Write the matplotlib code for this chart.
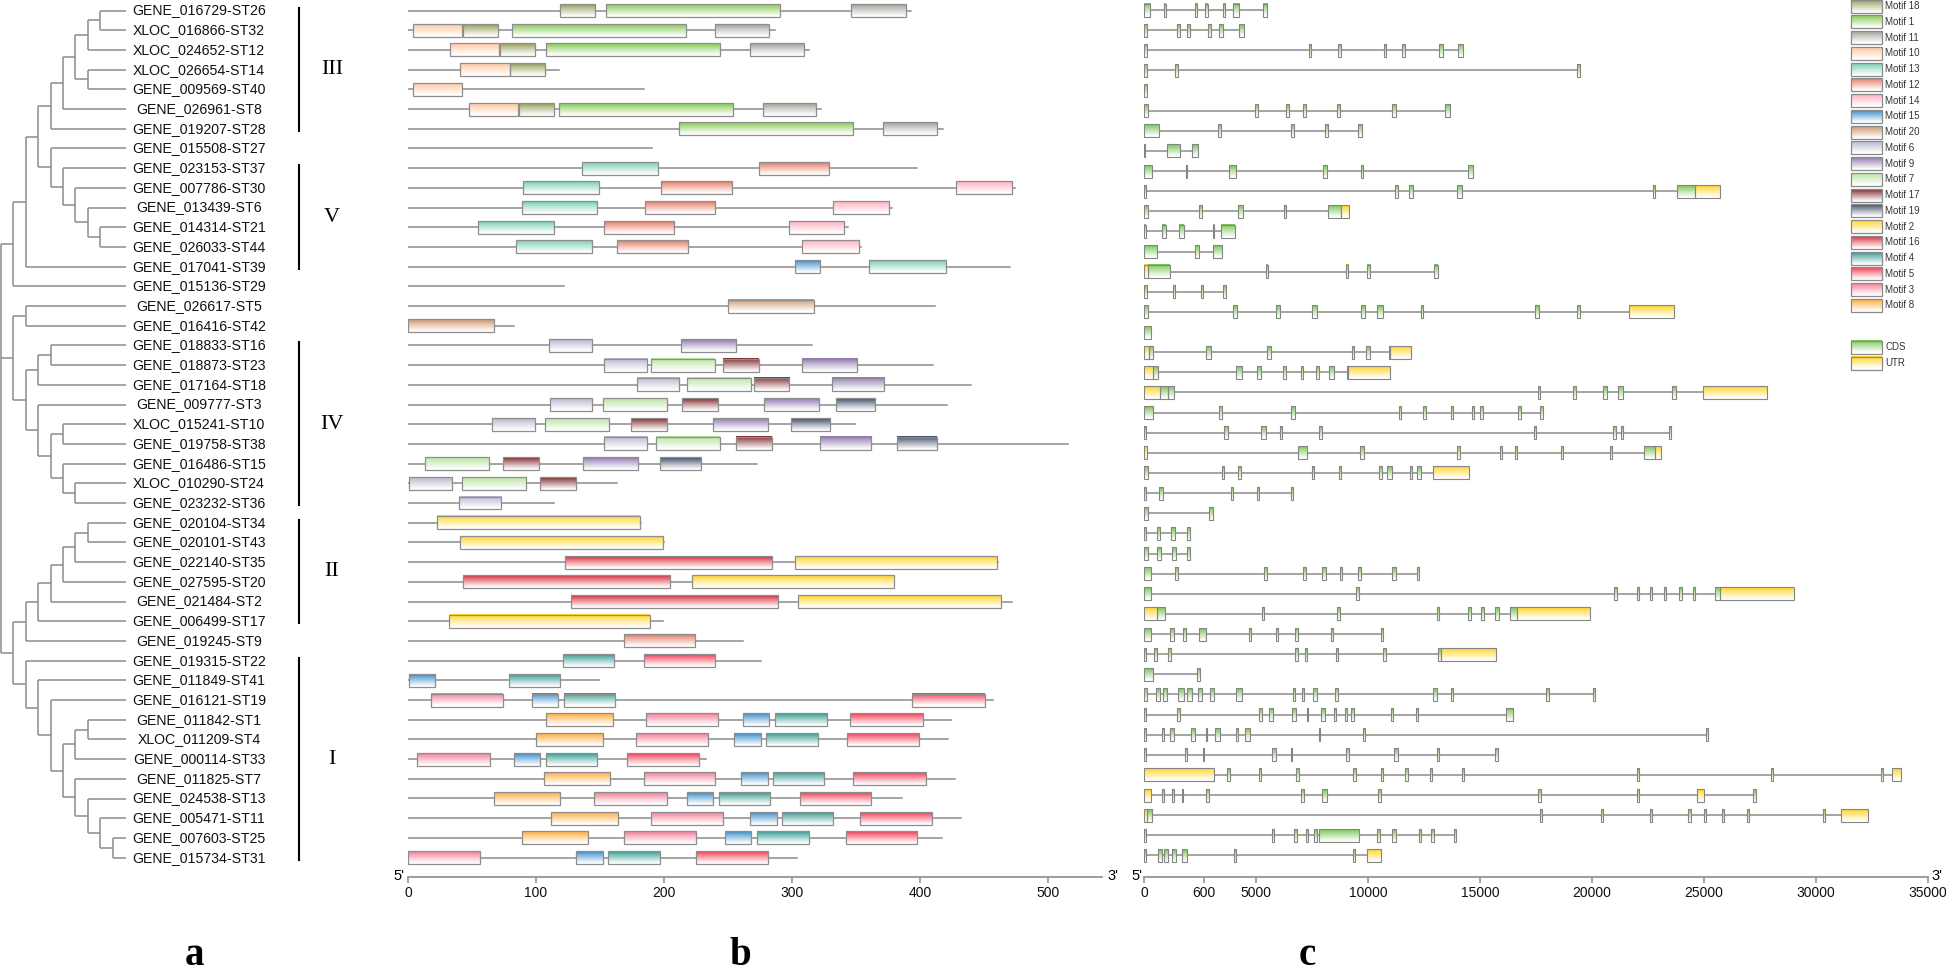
import numpy as np
import matplotlib
matplotlib.use('Agg')
import matplotlib.pyplot as plt
from matplotlib.patches import Rectangle
from matplotlib.colors import to_rgb
from matplotlib.transforms import ScaledTranslation

# ---------------- data ----------------
gene_labels = [
 "GENE_016729-ST26","XLOC_016866-ST32","XLOC_024652-ST12","XLOC_026654-ST14","GENE_009569-ST40",
 "GENE_026961-ST8","GENE_019207-ST28","GENE_015508-ST27","GENE_023153-ST37","GENE_007786-ST30",
 "GENE_013439-ST6","GENE_014314-ST21","GENE_026033-ST44","GENE_017041-ST39","GENE_015136-ST29",
 "GENE_026617-ST5","GENE_016416-ST42","GENE_018833-ST16","GENE_018873-ST23","GENE_017164-ST18",
 "GENE_009777-ST3","XLOC_015241-ST10","GENE_019758-ST38","GENE_016486-ST15","XLOC_010290-ST24",
 "GENE_023232-ST36","GENE_020104-ST34","GENE_020101-ST43","GENE_022140-ST35","GENE_027595-ST20",
 "GENE_021484-ST2","GENE_006499-ST17","GENE_019245-ST9","GENE_019315-ST22","GENE_011849-ST41",
 "GENE_016121-ST19","GENE_011842-ST1","XLOC_011209-ST4","GENE_000114-ST33","GENE_011825-ST7",
 "GENE_024538-ST13","GENE_005471-ST11","GENE_007603-ST25","GENE_015734-ST31"]

# cladogram topology (1-based leaf indices into gene_labels)
tree_newick = ("(((((((((1,2),3),(4,5)),6),7),(8,(9,(10,(11,(12,13)))))),14),15),"
               "((16,17),(((18,19),20),(21,((22,23),(24,(25,26)))))),"
               "(((((((27,28),29),30),31),32),33),(34,(35,(36,(((37,38),39),(40,(41,(42,(43,44))))))))))")

clade_names = ["III", "V", "IV", "II", "I"]
clade_first = [1, 9, 18, 27, 34]
clade_last = [7, 14, 26, 32, 44]

protein_len = [393,287,313,118,184,323,418,191,398,474,378,344,354,470,122,412,83,316,410,440,
               421,349,516,273,163,114,182,200,461,380,472,199,262,276,149,457,424,422,233,427,
               386,432,417,304]

motif_hits = [
 [(18,119,146),(1,155,291),(11,346,389)],
 [(10,4,42),(18,43,70),(1,81,217),(11,240,282)],
 [(10,33,71),(18,72,99),(1,108,244),(11,267,309)],
 [(10,41,80),(18,80,107)],
 [(10,4,42)],
 [(10,48,86),(18,87,114),(1,118,254),(11,277,319)],
 [(1,212,348),(11,371,413)],
 [],
 [(13,136,195),(12,274,329)],
 [(13,90,149),(12,198,253),(14,428,472)],
 [(13,89,148),(12,185,240),(14,332,376)],
 [(13,55,114),(12,153,208),(14,298,341)],
 [(13,84,144),(12,163,219),(14,308,352)],
 [(15,302,322),(13,360,420)],
 [],
 [(20,250,317)],
 [(20,0,67)],
 [(6,110,144),(9,213,256)],
 [(6,153,187),(7,190,240),(17,246,274),(9,308,351)],
 [(6,179,212),(7,218,268),(17,270,298),(9,331,372)],
 [(6,111,144),(7,152,202),(17,214,242),(9,278,321),(19,334,365)],
 [(6,66,99),(7,107,157),(17,174,202),(9,238,281),(19,299,330)],
 [(6,153,187),(7,194,244),(17,256,284),(9,322,362),(19,382,413)],
 [(7,13,63),(17,74,102),(9,137,180),(19,197,229)],
 [(6,1,34),(7,42,92),(17,103,131)],
 [(6,40,73)],
 [(2,23,181)],
 [(2,41,199)],
 [(16,123,284),(2,302,460)],
 [(16,43,205),(2,222,380)],
 [(16,127,289),(2,305,463)],
 [(2,32,189)],
 [(12,169,224)],
 [(4,121,161),(5,184,240)],
 [(15,1,21),(4,79,119)],
 [(3,18,74),(15,97,117),(4,122,162),(5,394,451)],
 [(8,108,160),(3,186,242),(15,262,282),(4,287,327),(5,345,402)],
 [(8,100,152),(3,178,234),(15,255,276),(4,280,320),(5,343,399)],
 [(3,7,64),(15,83,103),(4,108,148),(5,171,227)],
 [(8,106,158),(3,184,240),(15,260,281),(4,285,325),(5,348,405)],
 [(8,67,119),(3,145,202),(15,218,238),(4,243,283),(5,306,362)],
 [(8,112,164),(3,190,246),(15,267,288),(4,292,332),(5,353,409)],
 [(8,89,141),(3,169,225),(15,248,268),(4,273,313),(5,342,398)],
 [(3,0,56),(15,131,152),(4,156,197),(5,225,281)],
]

legend_motifs = [18,1,11,10,13,12,14,15,20,6,9,7,17,19,2,16,4,5,3,8]
motif_colors = {18:'#8d9a4e', 1:'#7cc846', 11:'#9c9c94', 10:'#ffc49a', 13:'#6fcca6',
                12:'#e27258', 14:'#ffaabb', 15:'#2f86c6', 20:'#c98f62', 6:'#b3b3cc',
                9:'#8a70aa', 7:'#b5e29a', 17:'#7a1f22', 19:'#36435e', 2:'#ffd21a',
                16:'#d9202f', 4:'#27978a', 5:'#f2304a', 3:'#f27592', 8:'#ffa72e'}
feature_colors = {'C': '#72c24a', 'U': '#ffd21a'}
feature_names = {'C': 'CDS', 'U': 'UTR'}

gene_models = [
 [(15,283,'C'),(908,997,'C'),(2262,2366,'C'),(2738,2842,'C'),(3512,3616,'C'),(3988,4256,'C'),(5297,5491,'C')],
 [(15,149,'C'),(1488,1622,'C'),(1920,2053,'C'),(2842,2976,'C'),(3348,3512,'C'),(4256,4479,'C')],
 [(15,119,'C'),(7351,7470,'C'),(8675,8794,'C'),(10714,10818,'C'),(11532,11651,'C'),(13184,13332,'C'),(14032,14240,'C')],
 [(15,119,'C'),(1399,1518,'C'),(19329,19463,'C')],
 [(15,149,'C')],
 [(15,164,'C'),(4970,5074,'C'),(6339,6458,'C'),(7113,7232,'C'),(8630,8749,'C'),(11086,11264,'C'),(13452,13660,'C')],
 [(15,655,'C'),(3318,3437,'C'),(6547,6681,'C'),(8065,8229,'C'),(9538,9746,'C')],
 [(15,60,'C'),(1042,1592,'C'),(2143,2425,'C')],
 [(15,372,'C'),(1875,1934,'C'),(3809,4122,'C'),(8005,8184,'C'),(9702,9761,'C'),(14463,14672,'C')],
 [(15,74,'C'),(11205,11324,'C'),(11844,12023,'C'),(13972,14181,'C'),(22722,22811,'C'),(23793,24597,'C'),(24597,25713,'U')],
 [(15,164,'C'),(2440,2589,'C'),(4211,4419,'C'),(6235,6324,'C'),(8229,8809,'C'),(8809,9166,'U')],
 [(15,74,'C'),(789,967,'C'),(1562,1771,'C'),(3065,3125,'C'),(3452,4047,'C')],
 [(15,580,'C'),(2262,2455,'C'),(3080,3467,'C')],
 [(15,193,'U'),(193,1146,'C'),(5431,5520,'C'),(9017,9121,'C'),(9955,10089,'C'),(12960,13109,'C')],
 [(15,119,'C'),(1309,1399,'C'),(2530,2619,'C'),(3541,3646,'C')],
 [(15,164,'C'),(3988,4137,'C'),(5907,6071,'C'),(7514,7708,'C'),(9687,9851,'C'),(10401,10684,'C'),(12350,12440,'C'),(17454,17618,'C'),(19329,19463,'C'),(21650,23659,'U')],
 [(15,327,'C')],
 [(15,223,'U'),(223,387,'C'),(2753,2991,'C'),(5506,5654,'C'),(9270,9389,'C'),(9895,10104,'C'),(10922,10981,'C'),(10981,11919,'U')],
 [(15,387,'U'),(387,610,'C'),(4092,4360,'C'),(5059,5208,'C'),(6220,6324,'C'),(7023,7083,'C'),(7678,7812,'C'),(8258,8482,'C'),(9047,9121,'C'),(9121,10981,'U')],
 [(15,729,'U'),(729,1056,'C'),(1056,1354,'C'),(17604,17693,'C'),(19167,19271,'C'),(20506,20685,'C'),(21176,21369,'C'),(23557,23735,'C'),(24970,27798,'U')],
 [(15,387,'C'),(3363,3497,'C'),(6562,6726,'C'),(11398,11487,'C'),(12469,12574,'C'),(13690,13794,'C'),(14642,14731,'C'),(15014,15133,'C'),(16695,16829,'C'),(17692,17796,'C')],
 [(15,74,'C'),(3571,3765,'C'),(5238,5431,'C'),(6071,6160,'C'),(7812,7931,'C'),(17395,17499,'C'),(20950,21050,'C'),(21300,21400,'C'),(23420,23520,'C')],
 [(15,149,'U'),(6860,7291,'C'),(9657,9836,'C'),(13957,14106,'C'),(15892,15981,'C'),(16547,16666,'C'),(18600,18700,'C'),(20800,20900,'C'),(22300,22800,'C'),(22800,23100,'U')],
 [(15,193,'C'),(3482,3571,'C'),(4211,4330,'C'),(7500,7604,'C'),(8720,8779,'C'),(10505,10624,'C'),(10862,11056,'C'),(11859,11949,'C'),(12187,12350,'C'),(12916,14523,'U')],
 [(15,74,'C'),(684,863,'C'),(3899,3988,'C'),(5029,5148,'C'),(6577,6666,'C')],
 [(15,193,'C'),(2887,3065,'C')],
 [(15,104,'C'),(565,729,'C'),(1220,1399,'C'),(1934,2053,'C')],
 [(15,164,'C'),(595,774,'C'),(1265,1443,'C'),(1920,2039,'C')],
 [(15,312,'C'),(1384,1533,'C'),(5372,5476,'C'),(7113,7232,'C'),(7961,8124,'C'),(8749,8854,'C'),(9538,9687,'C'),(11086,11264,'C'),(12172,12291,'C')],
 [(15,312,'C'),(9449,9598,'C'),(21000,21100,'C'),(22000,22100,'C'),(22600,22700,'C'),(23200,23300,'C'),(23900,24000,'C'),(24500,24600,'C'),(25500,25700,'C'),(25700,29000,'U')],
 [(15,595,'U'),(595,952,'C'),(5253,5357,'C'),(8630,8749,'C'),(13065,13184,'C'),(14478,14612,'C'),(15059,15178,'C'),(15669,15832,'C'),(16323,16636,'C'),(16636,19900,'U')],
 [(15,298,'C'),(1176,1354,'C'),(1726,1890,'C'),(2440,2753,'C'),(4687,4791,'C'),(5878,5997,'C'),(6756,6875,'C'),(8333,8437,'C'),(10565,10684,'C')],
 [(15,74,'C'),(446,580,'C'),(1056,1190,'C'),(6741,6875,'C'),(7187,7291,'C'),(8571,8675,'C'),(10669,10788,'C'),(13139,13243,'C'),(13243,15698,'U')],
 [(15,387,'C'),(2381,2485,'C')],
 [(15,119,'C'),(551,699,'C'),(863,1042,'C'),(1533,1771,'C'),(1920,2128,'C'),(2396,2604,'C'),(2931,3110,'C'),(4122,4360,'C'),(6666,6756,'C'),(7038,7157,'C'),(7529,7708,'C'),(8541,8645,'C'),(12901,13080,'C'),(13704,13809,'C'),(17961,18064,'C'),(20050,20150,'C')],
 [(15,74,'C'),(1488,1622,'C'),(5148,5253,'C'),(5565,5744,'C'),(6607,6770,'C'),(7261,7336,'C'),(7901,8065,'C'),(8482,8571,'C'),(8973,9062,'C'),(9240,9374,'C'),(11041,11130,'C'),(12142,12246,'C'),(16145,16487,'C')],
 [(15,74,'C'),(804,908,'C'),(1161,1354,'C'),(2113,2277,'C'),(2768,2827,'C'),(3169,3393,'C'),(4107,4196,'C'),(4509,4732,'C'),(7797,7872,'C'),(9791,9880,'C'),(25100,25200,'C')],
 [(15,74,'C'),(1815,1934,'C'),(2634,2693,'C'),(5714,5892,'C'),(6547,6607,'C'),(9032,9166,'C'),(11175,11354,'C'),(13094,13184,'C'),(15684,15788,'C')],
 [(15,3110,'U'),(3705,3839,'C'),(5148,5238,'C'),(6785,6934,'C'),(9345,9479,'C'),(10595,10654,'C'),(11636,11800,'C'),(12752,12841,'C'),(14181,14285,'C'),(22000,22100,'C'),(28000,28100,'C'),(32900,33000,'C'),(33400,33800,'U')],
 [(15,298,'U'),(804,908,'C'),(1250,1324,'C'),(1681,1741,'C'),(2753,2887,'C'),(7008,7142,'C'),(7946,8154,'C'),(10461,10580,'C'),(17573,17722,'C'),(22000,22100,'C'),(24700,25000,'U'),(27200,27300,'C')],
 [(15,119,'U'),(119,357,'C'),(17692,17782,'C'),(20400,20500,'C'),(22600,22700,'C'),(24300,24400,'C'),(25000,25100,'C'),(25800,25900,'C'),(26900,27000,'C'),(30300,30400,'C'),(31100,32300,'U')],
 [(15,74,'C'),(5714,5803,'C'),(6711,6830,'C'),(7217,7306,'C'),(7589,7708,'C'),(7797,9612,'C'),(10401,10535,'C'),(11086,11264,'C'),(12291,12380,'C'),(12827,12931,'C'),(13853,13913,'C')],
 [(15,74,'C'),(640,818,'C'),(908,1086,'C'),(1265,1443,'C'),(1711,1905,'C'),(4018,4107,'C'),(9315,9434,'C'),(9970,10565,'U')],
]

motif_ticks = [0, 100, 200, 300, 400, 500]
gene_ticks = [0, 2680, 5000, 10000, 15000, 20000, 25000, 30000, 35000]
gene_tick_labels = ['0', '600', '5000', '10000', '15000', '20000', '25000', '30000', '35000']

# ---------------- drawing ----------------
W, H = 1946, 976
fig = plt.figure(figsize=(W / 100, H / 100), dpi=100)
SANS = ['Liberation Sans', 'DejaVu Sans']
SERIF = ['Liberation Serif', 'DejaVu Serif']
LINE_GREY = '#8c8c8c'


def add_ax(x0, y0, x1, y1):
    return fig.add_axes([x0 / W, 1 - y1 / H, (x1 - x0) / W, (y1 - y0) / H])


def grad_box(ax, x0, x1, yc, h, color, ec='#8e8e8e', lw=0.9, z=3):
    c = np.array(to_rgb(color))
    t = np.linspace(0, 1, 40)[:, None]
    w = np.clip(t ** 0.85 * 1.05, 0, 1)
    arr = (c[None, :] * (1 - w) + w)[:, None, :]
    ax.imshow(arr, extent=(x0, x1, yc + h / 2, yc - h / 2), aspect='auto',
              interpolation='bilinear', zorder=z)
    ax.add_patch(Rectangle((x0, yc - h / 2), x1 - x0, h, fill=False, ec=ec, lw=lw, zorder=z + 0.1))


def hide_spines(ax, keep_bottom=False):
    for s in ['left', 'top', 'right']:
        ax.spines[s].set_visible(False)
    ax.spines['bottom'].set_visible(keep_bottom)
    ax.set_yticks([])
    if not keep_bottom:
        ax.set_xticks([])
    ax.patch.set_alpha(0)


ROW0, ROWH = 10.5, 19.7   # px of first row, px per row (tree / motifs)
DX = 12.4                 # px per tree depth level

# ---- panel a: tree ----
axt = add_ax(0, 0, 400, 870)
hide_spines(axt)
tip = (126 - 1) / DX


def parse(s):
    pos = [0]

    def node():
        if s[pos[0]] == '(':
            pos[0] += 1
            ch = [node()]
            while s[pos[0]] == ',':
                pos[0] += 1
                ch.append(node())
            pos[0] += 1
            return ch
        j = pos[0]
        while s[pos[0]].isdigit():
            pos[0] += 1
        return int(s[j:pos[0]]) - 1
    return node()


def draw_node(n, depth):
    if isinstance(n, int):
        return tip, n
    ys = []
    for ch in n:
        cx, cy = draw_node(ch, depth + 1)
        axt.plot([depth, cx], [cy, cy], color=LINE_GREY, lw=1.1, solid_capstyle='butt')
        ys.append(cy)
    axt.plot([depth, depth], [ys[0], ys[-1]], color=LINE_GREY, lw=1.1, solid_capstyle='butt')
    return depth, (ys[0] + ys[-1]) / 2


draw_node(parse(tree_newick), 0)
for i, lab in enumerate(gene_labels):
    axt.text((199 - 1) / DX, i, lab, ha='center', va='center', fontsize=10.2,
             family=SANS, color='#111111')
for name, a, b in zip(clade_names, clade_first, clade_last):
    axt.plot([(299 - 1) / DX] * 2, [a - 1 - 0.15, b - 1 + 0.1], color='black', lw=1.5)
    axt.text((332 - 1) / DX, (a + b) / 2 - 1, name, ha='center', va='center',
             fontsize=16, family=SERIF)
axt.set_xlim(-1 / DX, 399 / DX)
axt.set_ylim((870 - ROW0) / ROWH, -ROW0 / ROWH)

# ---- panel b: motifs ----
axb = add_ax(408, 0, 1102, 877)
hide_spines(axb, keep_bottom=True)
hb = 13 / ROWH
for i, (L, hits) in enumerate(zip(protein_len, motif_hits)):
    axb.plot([0, L], [i, i], color=LINE_GREY, lw=1.1, zorder=1)
    for m, s, e in hits:
        grad_box(axb, s, e, i, hb, motif_colors[m])
axb.set_xlim(0, (1102 - 408) / 1.28)
axb.set_ylim((877 - ROW0) / ROWH, -ROW0 / ROWH)

# ---- panel c: gene structures ----
ROWC0, ROWCH = 10.0, 20.13
axc = add_ax(1144, 0, 1928, 877)
hide_spines(axc, keep_bottom=True)
hc = 13 / ROWCH
for i, model in enumerate(gene_models):
    axc.plot([model[0][0], model[-1][1]], [i, i], color=LINE_GREY, lw=1.1, zorder=1)
    for s, e, k in model:
        grad_box(axc, s, e, i, hc, feature_colors[k], ec='#858585', lw=0.8)
axc.set_xlim(0, 35000)
axc.set_ylim((877 - ROWC0) / ROWCH, -ROWC0 / ROWCH)

for ax, ticks, labels, l5, r3 in [(axb, motif_ticks, [str(t) for t in motif_ticks], -9, 11),
                                  (axc, gene_ticks, gene_tick_labels, -7, 9)]:
    ax.spines['bottom'].set_color(LINE_GREY)
    ax.spines['bottom'].set_linewidth(1.2)
    ax.set_xticks(ticks)
    ax.set_xticklabels(labels)
    ax.tick_params(axis='x', direction='out', length=4, width=1.1, color=LINE_GREY,
                   labelsize=10, pad=2.5, labelcolor='#111111')
    for t in ax.get_xticklabels():
        t.set_family(SANS)
    ax.text(0, 0, "5'", transform=ax.transAxes + ScaledTranslation(l5 / 100, 1 / 100, fig.dpi_scale_trans),
            ha='center', va='center', fontsize=10.5, family=SANS)
    ax.text(1, 0, "3'", transform=ax.transAxes + ScaledTranslation(r3 / 100, 1 / 100, fig.dpi_scale_trans),
            ha='center', va='center', fontsize=10.5, family=SANS)

# ---- legend ----
axl = add_ax(1845, 0, 1946, 372)
hide_spines(axl)
leg_step = 15.75
for k, m in enumerate(legend_motifs):
    yc = 6.2 + k * leg_step
    grad_box(axl, 6, 37, yc, 13, motif_colors[m], ec='#8a8a8a', lw=0.9)
    axl.text(40, yc, f'Motif {m}', ha='left', va='center', fontsize=7, family=SANS, color='#333333')
for k, key in enumerate(['C', 'U']):
    yc = 347 + k * 16
    grad_box(axl, 6, 37, yc, 13, feature_colors[key], ec='#8a8a8a', lw=0.9)
    axl.text(40, yc, feature_names[key], ha='left', va='center', fontsize=7, family=SANS, color='#333333')
axl.set_xlim(0, 101)
axl.set_ylim(372, 0)

# ---- panel letters ----
for lab, xp in [('a', 194), ('b', 740), ('c', 1307)]:
    fig.text(xp / W, 1 - 965 / H, lab, ha='center', va='baseline', fontsize=28,
             fontweight='bold', family=SERIF)

fig.savefig('out.png', dpi=100)
